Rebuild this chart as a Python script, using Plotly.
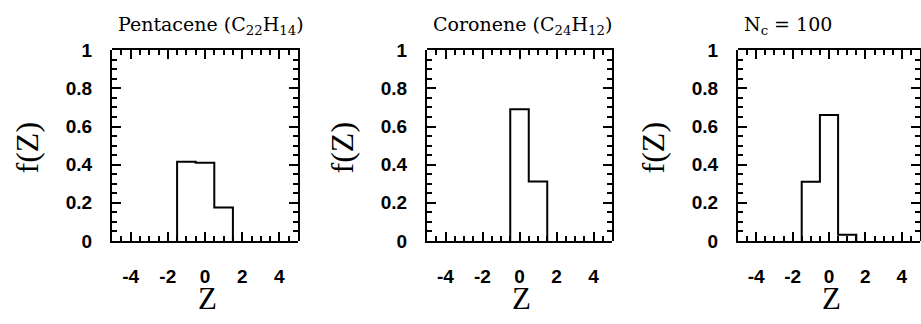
import plotly.graph_objects as go

# ---- data ----
titles = ["Pentacene (C<sub>22</sub>H<sub>14</sub>)",
          "Coronene (C<sub>24</sub>H<sub>12</sub>)",
          "N<sub>c</sub> = 100"]
pent_Z = [-1, 0, 1]
pent_f = [0.415, 0.41, 0.175]
coro_Z = [0, 1]
coro_f = [0.69, 0.312]
nc100_Z = [-1, 0, 1]
nc100_f = [0.31, 0.66, 0.033]

x_tickvals = [-4, -2, 0, 2, 4]
x_ticktext = ["-4", "-2", "0", "2", "4"]
y_tickvals = [0, 0.2, 0.4, 0.6, 0.8, 1]
y_ticktext = ["0", "0.2", "0.4", "0.6", "0.8", "1"]

panels = [(pent_Z, pent_f), (coro_Z, coro_f), (nc100_Z, nc100_f)]

W, H = 921, 324
xdoms = [(112, 298), (427, 612), (738, 920)]
ytop, ybot = 43, 247
XMIN, XMAX = -5, 5
LAB_XMAX = 4.5  # label axis stops short of the frame edge, same scale

def step_outline(centers, vals, width=1.0):
    xs, ys = [], []
    edges = [c - width / 2 for c in centers] + [centers[-1] + width / 2]
    xs.append(edges[0]); ys.append(0)
    for e, v in zip(edges[:-1], vals):
        xs.append(e); ys.append(v)
    xs.append(edges[-1]); ys.append(0)
    return xs, ys

fig = go.Figure()
annotations = []
tickfont = dict(family="Liberation Sans", size=19, color="black", weight="bold")
frame = dict(showgrid=False, zeroline=False, showline=True, linecolor="black",
             linewidth=2, ticks="inside", tickcolor="black", tickwidth=2, ticklen=9,
             showticklabels=False)
xminor = dict(dtick=0.5, tick0=0, ticks="inside", ticklen=5, tickwidth=1.5, tickcolor="black")
yminor = dict(dtick=0.05, tick0=0, ticks="inside", ticklen=5, tickwidth=1.5, tickcolor="black")
labelax = dict(showgrid=False, zeroline=False, showline=False, ticks="outside",
               tickcolor="rgba(0,0,0,0)", tickwidth=1, showticklabels=True,
               tickfont=tickfont, ticklabeloverflow="allow")

def ax(k):
    return "" if k == 1 else str(k)

for i, (zc, fv) in enumerate(panels):
    a_main, a_top, a_lab = ax(i + 1), ax(i + 4), ax(i + 7)
    xs, ys = step_outline(zc, fv)
    fig.add_trace(go.Scatter(x=xs, y=ys, mode="lines", line_shape="hv",
                             line=dict(color="black", width=2),
                             xaxis="x" + a_main, yaxis="y" + a_main, showlegend=False,
                             hoverinfo="skip"))
    for a in (a_top, a_lab):
        fig.add_trace(go.Scatter(x=[XMIN, LAB_XMAX], y=[0, 1], mode="markers",
                                 marker=dict(opacity=0), xaxis="x" + a, yaxis="y" + a,
                                 showlegend=False, hoverinfo="skip"))
    x0, x1 = xdoms[i]
    dom = [x0 / W, x1 / W]
    lab_x1 = x0 + (x1 - x0) * (LAB_XMAX - XMIN) / (XMAX - XMIN)
    ydom = [1 - ybot / H, 1 - ytop / H]
    fig.update_layout(**{
        "xaxis" + a_main: dict(domain=dom, range=[XMIN, XMAX], tickvals=x_tickvals,
                               anchor="y" + a_main, minor=xminor, **frame),
        "yaxis" + a_main: dict(domain=ydom, range=[0, 1], tickvals=y_tickvals,
                               anchor="x" + a_main, minor=yminor, **frame),
        "xaxis" + a_top: dict(domain=dom, range=[XMIN, XMAX], tickvals=x_tickvals, side="top",
                              anchor="y" + a_top, minor=xminor, **frame),
        "yaxis" + a_top: dict(domain=ydom, range=[0, 1], tickvals=y_tickvals, side="right",
                              anchor="x" + a_top, minor=yminor, **frame),
        "xaxis" + a_lab: dict(domain=[x0 / W, lab_x1 / W], range=[XMIN, LAB_XMAX],
                              tickvals=x_tickvals, ticktext=x_ticktext, anchor="y" + a_lab,
                              ticklen=18, **labelax),
        "yaxis" + a_lab: dict(domain=ydom, range=[0, 1], tickvals=y_tickvals,
                              ticktext=y_ticktext, anchor="x" + a_lab, ticklen=15, **labelax),
    })
    annotations.append(dict(text=titles[i], xref="paper", yref="paper",
                            x=(x0 + 4) / W, y=1 - 17 / H, xanchor="left", yanchor="middle",
                            showarrow=False,
                            font=dict(family="DejaVu Serif", size=19, color="black")))
    annotations.append(dict(text="f(Z)", xref="paper", yref="paper",
                            x=(x0 - 85) / W, y=1 - 147 / H, textangle=-90,
                            xanchor="center", yanchor="middle", showarrow=False,
                            font=dict(family="Liberation Serif", size=32, color="black")))
    annotations.append(dict(text="Z", xref="paper", yref="paper",
                            x=((x0 + x1) / 2 + 2) / W, y=1 - 308 / H,
                            xanchor="center", yanchor="middle", showarrow=False,
                            font=dict(family="Liberation Serif", size=31, color="black")))

fig.update_layout(width=W, height=H, margin=dict(l=0, r=0, t=0, b=0),
                  paper_bgcolor="white", plot_bgcolor="rgba(0,0,0,0)",
                  annotations=annotations)
fig.write_html("out.html")
